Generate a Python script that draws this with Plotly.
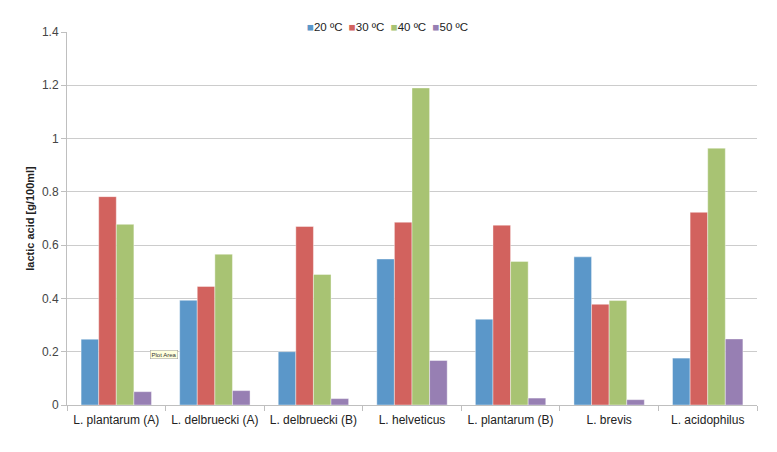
import plotly.graph_objects as go

categories = ["L. plantarum (A)", "L. delbruecki (A)", "L. delbruecki (B)", "L. helveticus",
              "L. plantarum (B)", "L. brevis", "L. acidophilus"]
series_names = ["20 ºC", "30 ºC", "40 ºC", "50 ºC"]
t20 = [0.247, 0.393, 0.200, 0.548, 0.322, 0.556, 0.176]
t30 = [0.782, 0.445, 0.670, 0.686, 0.675, 0.378, 0.723]
t40 = [0.678, 0.566, 0.490, 1.190, 0.539, 0.392, 0.964]
t50 = [0.050, 0.054, 0.024, 0.167, 0.026, 0.020, 0.248]
colors = ["#5B97C9", "#D2625E", "#A8C373", "#977FB3"]

fig = go.Figure()
for name, vals, col in zip(series_names, [t20, t30, t40, t50], colors):
    fig.add_trace(go.Bar(x=categories, y=vals, name=name, marker_color=col,
                         marker_line=dict(color="rgba(255,255,255,0.5)", width=0.8)))

legend_text = "  ".join(
    f"<span style='color:{c}'>■</span>{n}" for n, c in zip(series_names, colors))

fig.update_layout(
    width=777, height=452,
    margin=dict(l=67, r=20, t=32, b=47, autoexpand=False),
    paper_bgcolor="white", plot_bgcolor="white",
    showlegend=False,
    barmode="group", bargap=0.286, bargroupgap=0,
    font=dict(family="Liberation Sans, Arial", size=12, color="#333333"),
    xaxis=dict(showline=True, linecolor="#bfbfbf", linewidth=1,
               ticks="outside", tickson="boundaries", ticklen=5, tickcolor="#bfbfbf",
               ticklabelstandoff=4, tickangle=0, automargin=False,
               tickfont=dict(size=12, color="#222222")),
    yaxis=dict(range=[0, 1.4], dtick=0.2, showgrid=True, gridcolor="#cccccc", gridwidth=1,
               showline=True, linecolor="#bfbfbf", ticks="outside", ticklen=5,
               tickcolor="#bfbfbf", zeroline=False, automargin=False,
               tickfont=dict(size=12, color="#444444"),
               title=dict(text="<b>lactic acid [g/100ml]</b>", font=dict(size=11, color="#222222"),
                          standoff=5)),
    annotations=[
        dict(text=legend_text, xref="paper", yref="paper", x=0.465, y=1.013,
             xanchor="center", yanchor="middle", showarrow=False,
             font=dict(size=11.5, color="#222222")),
        dict(text="Plot Area", xref="paper", yref="paper", x=0.14, y=0.135,
             xanchor="center", yanchor="middle", showarrow=False,
             font=dict(size=6, color="#333333"), bgcolor="#FFFFDD",
             bordercolor="#999999", borderwidth=0.5, borderpad=1),
    ],
)

fig.write_html("out.html")
